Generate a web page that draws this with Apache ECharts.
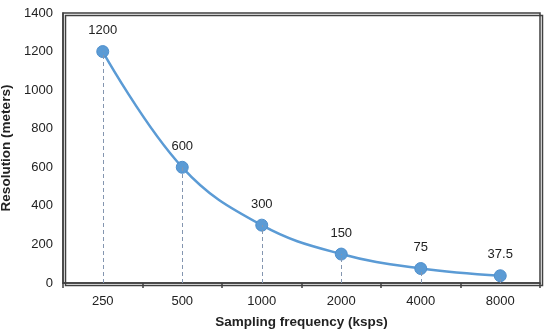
<!DOCTYPE html>
<html><head><meta charset="utf-8">
<script src="https://cdn.jsdelivr.net/npm/echarts@6/dist/echarts.min.js"></script>
<style>html,body{margin:0;padding:0;background:#fff}#c{width:550px;height:334px}</style>
</head><body><div id="c"></div>
<script>
var categories = ['250','500','1000','2000','4000','8000'];
var resolution = [1200, 600, 300, 150, 75, 37.5];
var yTicks = [0, 200, 400, 600, 800, 1000, 1200, 1400];

var dropLines = resolution.map(function(v, i){
  return [{coord:[i, 0]}, {coord:[i, v]}];
});

var G = {left: 63, right: 10, top: 13, bottom: 51};
var W = 550, H = 334;

var chart = echarts.init(document.getElementById('c'), null, {renderer:'canvas'});
chart.setOption({
  animation: false,
  grid: {left: G.left, right: G.right, top: G.top, bottom: G.bottom, containLabel: false, outerBoundsMode: 'none',
         show: true, borderColor: '#404040', borderWidth: 1.5},
  graphic: [{type: 'rect', left: G.left, top: G.top, silent: true, z: 100,
             shape: {width: W - G.left - G.right, height: H - G.top - G.bottom},
             style: {fill: 'none', stroke: '#404040', lineWidth: 1.5}}],
  xAxis: {
    type: 'category', data: categories, boundaryGap: true,
    name: 'Sampling frequency (ksps)', nameLocation: 'middle', nameGap: 32,
    nameTextStyle: {fontFamily: 'Liberation Sans, Arial', fontWeight: 'bold', fontSize: 13.5, color: '#222'},
    axisLine: {lineStyle: {color: '#404040', width: 1.5}},
    axisTick: {show: true, inside: false, length: 5, lineStyle: {color: '#404040', width: 1.5}},
    axisLabel: {fontFamily: 'Liberation Sans, Arial', fontSize: 13, color: '#222', margin: 12},
    splitLine: {show: false}
  },
  yAxis: {
    type: 'value', min: yTicks[0], max: yTicks[yTicks.length-1], interval: 200,
    name: 'Resolution (meters)', nameLocation: 'middle', nameGap: 46,
    nameTextStyle: {fontFamily: 'Liberation Sans, Arial', fontWeight: 'bold', fontSize: 13.5, color: '#222'},
    axisLine: {show: true, lineStyle: {color: '#404040', width: 1.5}},
    axisTick: {show: false},
    axisLabel: {fontFamily: 'Liberation Sans, Arial', fontSize: 13, color: '#222', margin: 10,
                formatter: function(v){ return String(v); }},
    splitLine: {show: false}
  },
  series: [{
    type: 'line', data: resolution, smooth: 0.4,
    symbol: 'circle', symbolSize: 12,
    lineStyle: {color: '#5B9BD5', width: 2.5},
    itemStyle: {color: '#5B9BD5', borderColor: '#4F8FCC', borderWidth: 1},
    label: {show: true, position: 'top', distance: 8, fontFamily: 'Liberation Sans, Arial', fontSize: 13, color: '#222'},
    markLine: {
      silent: true, symbol: ['none','none'], label: {show: false},
      lineStyle: {type: [4, 3], color: '#8496B0', width: 1},
      data: dropLines
    },
    z: 3
  }]
});
</script></body></html>
